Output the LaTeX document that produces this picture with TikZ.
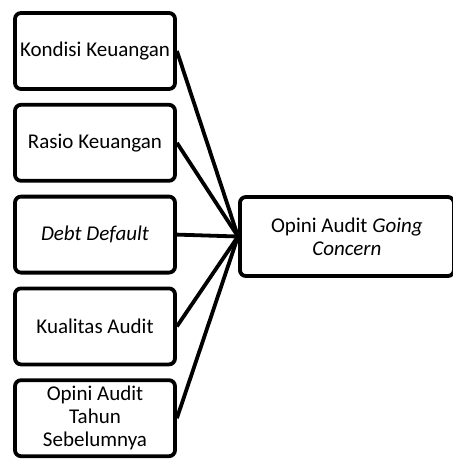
\documentclass[tikz,border=0pt]{standalone}
\usepackage{fontspec}
\setmainfont{Carlito}
\usetikzlibrary{positioning}
\tikzset{
  basic/.style  = {draw, line width=3.8pt, rounded corners=6pt, align=center,
                   font=\fontsize{21}{23}\selectfont, rectangle, inner sep=2pt},
  factor/.style = {basic, minimum width=160pt, minimum height=76pt},
  goal/.style   = {basic, minimum width=214pt, minimum height=79pt}
}
\begin{document}
\begin{tikzpicture}[link/.style={line width=3.8pt}]
\useasboundingbox (0,0) rectangle (453pt,-459pt);

% the five factors, stacked on the left
\node[factor] (b1) at (95pt,-51pt) {Kondisi Keuangan};
\node[factor, below=12pt of b1] (b2) {Rasio Keuangan};
\node[factor, below=12pt of b2] (b3) {\textit{Debt Default}};
\node[factor, below=12pt of b3] (b4) {Kualitas Audit};
\node[factor, below=12pt of b4] (b5) {Opini Audit\\Tahun\\Sebelumnya};

% the outcome on the right
\node[goal, anchor=west] (og) at (238pt,-236.5pt) {Opini Audit \textit{Going}\\\textit{Concern}};

% lines from each factor to the outcome
\foreach \value in {1,...,5}
  \draw[link] (b\value.east) -- (og.west);

\end{tikzpicture}
\end{document}
